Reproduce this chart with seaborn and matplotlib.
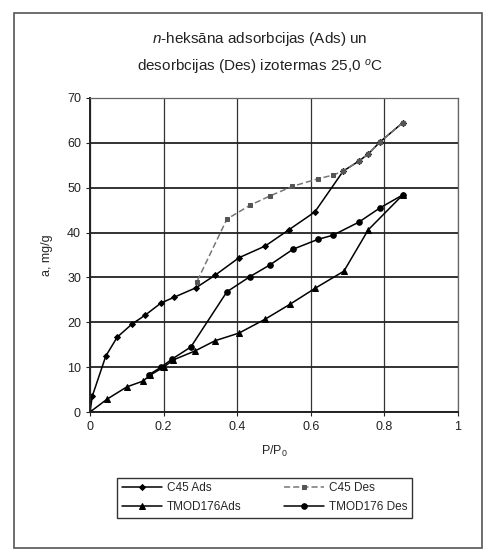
import matplotlib
matplotlib.use("Agg")
import matplotlib.pyplot as plt
import seaborn as sns
import pandas as pd
from matplotlib.patches import Rectangle

# isotherm data (P/P0, a mg/g)
c45_ads_x = [0, 0.006, 0.043, 0.074, 0.114, 0.15, 0.193, 0.229, 0.288, 0.34, 0.405,
             0.476, 0.54, 0.611, 0.688, 0.73, 0.756, 0.788, 0.85]
c45_ads_y = [0, 3.5, 12.5, 16.7, 19.6, 21.6, 24.3, 25.6, 27.7, 30.5, 34.4,
             37.0, 40.6, 44.6, 53.7, 55.9, 57.5, 60.2, 64.5]

c45_des_x = [0.85, 0.788, 0.756, 0.73, 0.688, 0.66, 0.62, 0.55, 0.49, 0.435, 0.372, 0.29]
c45_des_y = [64.5, 60.2, 57.5, 55.9, 53.7, 52.8, 52.0, 50.3, 48.2, 46.1, 43.0, 29.0]

tmod_ads_x = [0, 0.047, 0.1, 0.144, 0.163, 0.2, 0.226, 0.285, 0.34, 0.405, 0.476,
              0.543, 0.612, 0.69, 0.756, 0.85]
tmod_ads_y = [0, 2.9, 5.6, 6.9, 8.2, 10.0, 11.6, 13.6, 15.9, 17.6, 20.7,
              24.0, 27.6, 31.4, 40.6, 48.4]

tmod_des_x = [0.85, 0.788, 0.73, 0.66, 0.62, 0.552, 0.489, 0.435, 0.372, 0.274,
              0.223, 0.193, 0.16]
tmod_des_y = [48.4, 45.5, 42.3, 39.4, 38.5, 36.3, 32.8, 30.2, 26.8, 14.5,
              11.8, 10.0, 8.3]

x_ticks = [0, 0.2, 0.4, 0.6, 0.8, 1]
x_tick_labels = ["0", "0.2", "0.4", "0.6", "0.8", "1"]
y_ticks = [0, 10, 20, 30, 40, 50, 60, 70]

sns.set_style("white")
plt.rcParams['font.family'] = ['Liberation Sans', 'DejaVu Sans']
plt.rcParams['mathtext.fontset'] = 'custom'
plt.rcParams['mathtext.rm'] = 'Liberation Sans'
plt.rcParams['mathtext.it'] = 'Liberation Sans:italic'

fig = plt.figure(figsize=(4.93, 5.52), dpi=100)
ax = fig.add_axes([0.1826, 0.2536, 0.7464, 0.5689])

# outer chart border
fig.patches.append(Rectangle((0.028, 0.008), 0.95, 0.968, transform=fig.transFigure,
                             fill=False, edgecolor="#555555", linewidth=1.2))

ax.set_axisbelow(True)
ax.grid(True, axis='y', color="#222222", linewidth=1.3)
ax.grid(True, axis='x', color="#333333", linewidth=0.9)

sns.lineplot(x=c45_ads_x, y=c45_ads_y, sort=False, estimator=None, ax=ax,
             color="black", marker="D", markersize=3, linewidth=1.1,
             markeredgecolor="black", label="C45 Ads")
sns.lineplot(x=c45_des_x, y=c45_des_y, sort=False, estimator=None, ax=ax,
             color="#777777", marker="s", markersize=3, linewidth=1.1,
             linestyle=(0, (4, 2)), markeredgecolor="#555555",
             markerfacecolor="#555555", label="C45 Des")
sns.lineplot(x=tmod_ads_x, y=tmod_ads_y, sort=False, estimator=None, ax=ax,
             color="black", marker="^", markersize=4, linewidth=1.1,
             markeredgecolor="black", label="TMOD176Ads")
sns.lineplot(x=tmod_des_x, y=tmod_des_y, sort=False, estimator=None, ax=ax,
             color="black", marker="o", markersize=4, linewidth=1.1,
             markeredgecolor="black", label="TMOD176 Des")

ax.set_xlim(0, 1)
ax.set_ylim(0, 70)
ax.set_xticks(x_ticks)
ax.set_xticklabels(x_tick_labels)
ax.set_yticks(y_ticks)
ax.tick_params(axis='both', labelsize=9, colors="#222222", length=3, direction='out')
ax.tick_params(axis='both', which='both', left=True, bottom=True)

for side in ["top", "right"]:
    ax.spines[side].set_color("#666666")
    ax.spines[side].set_linewidth(0.9)
for side in ["left", "bottom"]:
    ax.spines[side].set_color("#222222")
    ax.spines[side].set_linewidth(1.4)

ax.set_xlabel("P/P$_0$", fontsize=9, labelpad=8)
ax.set_ylabel("a, mg/g", fontsize=9, labelpad=10)

fig.text(0.527, 0.903, "$\\it{n}$-heksāna adsorbcijas (Ads) un\ndesorbcijas (Des) izotermas 25,0 $^{o}$C",
         ha="center", va="center", fontsize=11, linespacing=1.75, color="#222222")

# legend rows: C45 Ads / C45 Des, TMOD176Ads / TMOD176 Des
handles, labels = ax.get_legend_handles_labels()
order = [0, 2, 1, 3]
ax.legend([handles[i] for i in order], [labels[i] for i in order],
          loc="upper center", bbox_to_anchor=(0.475, -0.19), ncol=2, fontsize=8.5,
          frameon=True, fancybox=False, edgecolor="black", handlelength=3.4,
          columnspacing=3.6, handletextpad=0.4, borderpad=0.4, labelspacing=0.6)

fig.savefig("out.png", dpi=100)
